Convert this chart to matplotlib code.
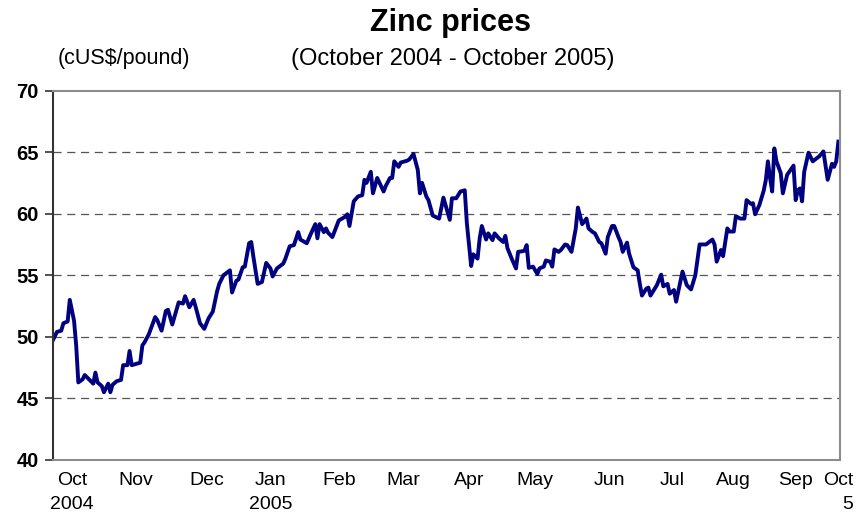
import pandas as pd
import numpy as np
import matplotlib.pyplot as plt

plt.rcParams['font.family'] = ['Liberation Sans', 'DejaVu Sans']

# zinc price, cUS$/pound
dates = ['2004-10-01', '2004-10-03', '2004-10-05', '2004-10-06', '2004-10-08', '2004-10-09', '2004-10-11', '2004-10-12', '2004-10-13', '2004-10-15',
         '2004-10-16', '2004-10-18', '2004-10-20', '2004-10-21', '2004-10-22', '2004-10-24', '2004-10-25', '2004-10-27', '2004-10-28', '2004-10-29',
         '2004-10-31', '2004-11-02', '2004-11-03', '2004-11-05', '2004-11-06', '2004-11-07', '2004-11-09', '2004-11-11', '2004-11-12', '2004-11-13',
         '2004-11-15', '2004-11-18', '2004-11-19', '2004-11-21', '2004-11-23', '2004-11-24', '2004-11-26', '2004-11-29', '2004-12-01', '2004-12-02',
         '2004-12-04', '2004-12-06', '2004-12-07', '2004-12-09', '2004-12-11', '2004-12-13', '2004-12-15', '2004-12-17', '2004-12-18', '2004-12-20',
         '2004-12-23', '2004-12-24', '2004-12-26', '2004-12-27', '2004-12-29', '2004-12-30', '2005-01-01', '2005-01-02', '2005-01-03', '2005-01-05',
         '2005-01-07', '2005-01-09', '2005-01-11', '2005-01-12', '2005-01-14', '2005-01-17', '2005-01-18', '2005-01-20', '2005-01-22', '2005-01-24',
         '2005-01-25', '2005-01-28', '2005-01-30', '2005-02-01', '2005-02-02', '2005-02-03', '2005-02-05', '2005-02-06', '2005-02-07', '2005-02-09',
         '2005-02-12', '2005-02-15', '2005-02-16', '2005-02-17', '2005-02-19', '2005-02-21', '2005-02-23', '2005-02-24', '2005-02-25', '2005-02-27',
         '2005-02-28', '2005-03-02', '2005-03-05', '2005-03-06', '2005-03-08', '2005-03-09', '2005-03-10', '2005-03-12', '2005-03-13', '2005-03-16',
         '2005-03-17', '2005-03-19', '2005-03-21', '2005-03-22', '2005-03-23', '2005-03-25', '2005-03-26', '2005-03-28', '2005-03-31', '2005-04-02',
         '2005-04-05', '2005-04-06', '2005-04-08', '2005-04-10', '2005-04-12', '2005-04-13', '2005-04-15', '2005-04-16', '2005-04-18', '2005-04-19',
         '2005-04-20', '2005-04-22', '2005-04-23', '2005-04-25', '2005-04-26', '2005-04-28', '2005-04-30', '2005-05-01', '2005-05-02', '2005-05-04',
         '2005-05-06', '2005-05-07', '2005-05-09', '2005-05-10', '2005-05-11', '2005-05-12', '2005-05-14', '2005-05-16', '2005-05-17', '2005-05-19',
         '2005-05-20', '2005-05-22', '2005-05-23', '2005-05-24', '2005-05-26', '2005-05-27', '2005-05-29', '2005-05-30', '2005-06-01', '2005-06-02',
         '2005-06-03', '2005-06-04', '2005-06-06', '2005-06-08', '2005-06-09', '2005-06-11', '2005-06-12', '2005-06-14', '2005-06-15', '2005-06-17',
         '2005-06-18', '2005-06-20', '2005-06-21', '2005-06-23', '2005-06-24', '2005-06-25', '2005-06-27', '2005-06-28', '2005-06-30', '2005-07-02',
         '2005-07-03', '2005-07-04', '2005-07-06', '2005-07-07', '2005-07-08', '2005-07-11', '2005-07-13', '2005-07-14', '2005-07-16', '2005-07-17',
         '2005-07-19', '2005-07-20', '2005-07-23', '2005-07-25', '2005-07-27', '2005-07-29', '2005-07-31', '2005-08-03', '2005-08-06', '2005-08-07',
         '2005-08-08', '2005-08-10', '2005-08-11', '2005-08-13', '2005-08-14', '2005-08-16', '2005-08-17', '2005-08-19', '2005-08-21', '2005-08-22',
         '2005-08-24', '2005-08-25', '2005-08-26', '2005-08-28', '2005-08-30', '2005-08-31', '2005-09-01', '2005-09-02', '2005-09-03', '2005-09-04',
         '2005-09-05', '2005-09-07', '2005-09-08', '2005-09-10', '2005-09-13', '2005-09-14', '2005-09-15', '2005-09-16', '2005-09-17', '2005-09-18',
         '2005-09-20', '2005-09-22', '2005-09-25', '2005-09-27', '2005-09-29', '2005-10-01', '2005-10-02', '2005-10-03', '2005-10-04']

prices = [49.7, 50.4, 50.5, 51.1, 51.25, 53.0, 51.3, 49.3, 46.3, 46.55,
          46.9, 46.55, 46.2, 47.1, 46.3, 46.0, 45.5, 46.2, 45.5, 46.1,
          46.4, 46.5, 47.7, 47.7, 48.85, 47.7, 47.8, 47.9, 49.3, 49.55,
          50.2, 51.6, 51.35, 50.5, 52.1, 52.2, 51.0, 52.8, 52.7, 53.3,
          52.4, 53.0, 52.4, 51.1, 50.65, 51.5, 52.05, 53.7, 54.3, 55.0,
          55.4, 53.6, 54.55, 54.65, 55.65, 55.7, 57.6, 57.7, 56.5, 54.3,
          54.45, 56.0, 55.55, 54.9, 55.55, 55.95, 56.35, 57.35, 57.45, 58.5,
          57.9, 57.6, 58.4, 59.15, 58.0, 59.15, 58.5, 58.8, 58.45, 58.1,
          59.45, 59.75, 59.95, 59.0, 61.0, 61.4, 61.5, 62.75, 62.5, 63.4,
          61.65, 62.9, 61.8, 62.25, 62.9, 62.9, 64.25, 63.8, 64.15, 64.3,
          64.4, 64.85, 63.55, 61.65, 62.5, 61.4, 61.1, 59.85, 59.6, 61.3,
          59.5, 61.25, 61.25, 61.8, 61.9, 59.2, 55.75, 56.7, 56.35, 58.0,
          59.0, 57.9, 58.4, 57.85, 58.4, 58.0, 57.7, 58.2, 57.2, 56.35,
          55.55, 56.9, 56.95, 57.0, 57.45, 55.6, 55.7, 55.1, 55.55, 55.7,
          56.2, 56.1, 55.7, 57.1, 56.9, 57.05, 57.5, 57.45, 56.9, 57.85,
          58.8, 60.5, 59.15, 59.6, 58.8, 58.5, 58.4, 57.7, 57.6, 56.75,
          58.1, 59.0, 59.0, 58.1, 57.7, 56.9, 57.65, 56.75, 55.65, 55.4,
          54.3, 53.35, 53.9, 54.0, 53.35, 54.2, 55.05, 54.1, 54.3, 53.5,
          53.8, 52.85, 55.3, 54.2, 53.85, 55.0, 57.5, 57.5, 57.9, 57.5,
          56.1, 57.05, 56.55, 58.8, 58.55, 58.55, 59.8, 59.6, 59.6, 61.1,
          60.8, 60.85, 59.95, 60.7, 61.85, 62.7, 64.25, 62.9, 61.8, 65.3,
          64.25, 63.3, 61.65, 63.15, 63.9, 61.1, 61.9, 62.05, 61.0, 63.4,
          64.95, 64.25, 64.65, 65.05, 62.75, 64.05, 63.8, 64.25, 65.85]

month_labels = ['Oct\n2004', 'Nov', 'Dec', 'Jan\n2005', 'Feb', 'Mar', 'Apr',
                'May', 'Jun', 'Jul', 'Aug', 'Sep', 'Oct\n5']
month_ticks = ['2004-10-10', '2004-11-09', '2004-12-12', '2005-01-11', '2005-02-12', '2005-03-14', '2005-04-14',
               '2005-05-15', '2005-06-19', '2005-07-18', '2005-08-16', '2005-09-14', '2005-10-04']
y_ticks = [40, 45, 50, 55, 60, 65, 70]

data = pd.DataFrame({'date': pd.to_datetime(dates), 'price': prices})

fig = plt.figure(figsize=(8.64, 5.19), dpi=100)
ax = fig.add_axes([0.061, 0.1137, 0.9118, 0.7119])

ax.plot(data['date'], data['price'], color='#000080', lw=2.8, solid_joinstyle='round')

ax.set_xlim(pd.Timestamp('2004-10-01'), pd.Timestamp('2005-10-05'))
ax.set_ylim(40, 70)
ax.set_yticks(y_ticks)
ax.set_yticklabels([str(v) for v in y_ticks], fontsize=14.5, fontweight='bold')
ax.set_xticks(pd.to_datetime(month_ticks))
ax.set_xticklabels(month_labels, fontsize=14, linespacing=1.5)
ax.get_xticklabels()[-1].set_multialignment('right')
ax.tick_params(axis='x', length=0, pad=9)
ax.tick_params(axis='y', length=6, width=1.2, color='#333333', pad=4)

# dashed gridlines between the frame lines
for v in y_ticks[1:-1]:
    ax.axhline(v, color='#555555', lw=0.9, dashes=(6.5, 4.5), zorder=0)

for side in ['top', 'right', 'bottom']:
    ax.spines[side].set_color('#8c8c8c')
    ax.spines[side].set_linewidth(1.5)
ax.spines['left'].set_color('#333333')
ax.spines['left'].set_linewidth(1.5)

fig.text(0.521, 0.956, 'Zinc prices', fontsize=22, fontweight='bold', ha='center', va='center')
fig.text(0.524, 0.887, '(October 2004 - October 2005)', fontsize=17, ha='center', va='center')
fig.text(0.1435, 0.887, '(cUS$/pound)', fontsize=15.5, ha='center', va='center')

plt.savefig('out.png', dpi=100)
